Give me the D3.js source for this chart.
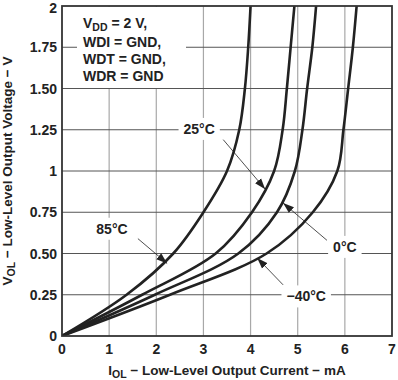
<!DOCTYPE html>
<html><head><meta charset="utf-8">
<script src="https://cdn.jsdelivr.net/npm/d3@7"></script>
<style>
body{margin:0;background:#fff;}
text{font-family:"Liberation Sans",Arial,sans-serif;font-weight:bold;fill:#222;}
</style></head>
<body><svg id="chart" width="398" height="380"></svg>
<script>
// ---- data ----
const voltageLevels = [0, 0.25, 0.5, 0.75, 1.0, 1.25, 1.5, 1.75, 2.0];
const current85  = [0, 1.37, 2.36, 3.00, 3.50, 3.76, 3.88, 3.95, 4.00];
const current25  = [0, 1.70, 3.26, 4.03, 4.50, 4.68, 4.77, 4.85, 4.93];
const current0   = [0, 1.97, 3.74, 4.56, 4.94, 5.10, 5.20, 5.31, 5.39];
const currentM40 = [0, 2.29, 4.34, 5.32, 5.84, 5.97, 6.07, 6.17, 6.25];
const seriesNames = ["85°C", "25°C", "0°C", "−40°C"];
const xTicks = [0, 1, 2, 3, 4, 5, 6, 7];
const yTicks = [0, 0.25, 0.5, 0.75, 1, 1.25, 1.5, 1.75, 2];
const yTickLabels = ["0", "0.25", "0.50", "0.75", "1", "1.25", "1.50", "1.75", "2"];
// annotation: label position and arrow (from -> tip), in data units
const annLabelX = [1.06, 2.91, 6.00, 5.18];
const annLabelY = [0.65, 1.255, 0.54, 0.24];
const annFromX  = [1.61, 3.42, 5.62, 4.69];
const annFromY  = [0.59, 1.19, 0.58, 0.31];
const annTipX   = [2.23, 4.31, 4.69, 4.14];
const annTipY   = [0.44, 0.89, 0.806, 0.473];
const conditionLines = [["V", "DD", " = 2 V,"], ["WDI = GND,"], ["WDT = GND,"], ["WDR = GND"]];

// ---- layout ----
const svg = d3.select("#chart");
const L = 62, T = 6, W = 330, H = 330;
const x = d3.scaleLinear().domain([0, 7]).range([L, L + W]);
const y = d3.scaleLinear().domain([0, 2]).range([T + H, T]);

// grid
const g = svg.append("g");
g.selectAll("line.v").data(xTicks.slice(1, -1)).enter().append("line")
  .attr("x1", d => x(d)).attr("x2", d => x(d)).attr("y1", T).attr("y2", T + H)
  .attr("stroke", "#a8a8a8").attr("stroke-width", 1.2);
g.selectAll("line.h").data(yTicks.slice(1, -1)).enter().append("line")
  .attr("x1", L).attr("x2", L + W).attr("y1", d => y(d)).attr("y2", d => y(d))
  .attr("stroke", "#555").attr("stroke-width", 1);

// condition box (white background covering grid)
svg.append("rect").attr("x", 77).attr("y", T + 1).attr("width", 109).attr("height", 81).attr("fill", "#fff");
const condBase = [28, 47, 64, 81];
conditionLines.forEach((parts, i) => {
  const t = svg.append("text").attr("x", 83).attr("y", condBase[i]).style("font-size", "14px");
  if (parts.length === 3) {
    t.append("tspan").text(parts[0]);
    t.append("tspan").attr("dy", 3).style("font-size", "10.5px").text(parts[1]);
    t.append("tspan").attr("dy", -3).text(parts[2]);
  } else {
    t.text(parts[0]);
  }
});

// annotation labels with white backgrounds
const annG = svg.append("g");
seriesNames.forEach((name, i) => {
  const cx = x(annLabelX[i]), cy = y(annLabelY[i]);
  const t = annG.append("text").attr("x", cx).attr("y", cy + 5)
    .attr("text-anchor", "middle").style("font-size", "14px").text(name);
  const bb = t.node().getBBox();
  annG.insert("rect", "text").attr("x", bb.x - 5).attr("y", bb.y - 3)
    .attr("width", bb.width + 10).attr("height", bb.height + 6).attr("fill", "#fff");
});

// curves
const allSeries = [current85, current25, current0, currentM40];
const line = d3.line().x(d => x(d[0])).y(d => y(d[1])).curve(d3.curveCatmullRom.alpha(0.5));
svg.append("defs").append("clipPath").attr("id", "clip").append("rect")
  .attr("x", L).attr("y", T).attr("width", W).attr("height", H);
svg.append("g").attr("clip-path", "url(#clip)").selectAll("path.c").data(allSeries).enter()
  .append("path").attr("d", s => line(s.map((v, k) => [v, voltageLevels[k]])))
  .attr("fill", "none").attr("stroke", "#222").attr("stroke-width", 2.6);

// arrows
const defs = svg.select("defs");
defs.append("marker").attr("id", "arr").attr("viewBox", "0 0 10 10").attr("refX", 10).attr("refY", 5)
  .attr("markerWidth", 11).attr("markerHeight", 11).attr("markerUnits", "userSpaceOnUse").attr("orient", "auto")
  .append("path").attr("d", "M0,1.5 L10,5 L0,8.5 Z").attr("fill", "#222");
seriesNames.forEach((name, i) => {
  svg.append("line").attr("x1", x(annFromX[i])).attr("y1", y(annFromY[i]))
    .attr("x2", x(annTipX[i])).attr("y2", y(annTipY[i]))
    .attr("stroke", "#222").attr("stroke-width", 0.8).attr("marker-end", "url(#arr)");
});

// frame
svg.append("rect").attr("x", L).attr("y", T).attr("width", W).attr("height", H)
  .attr("fill", "none").attr("stroke", "#333").attr("stroke-width", 1.8);

// axes tick labels
svg.selectAll("text.xt").data(xTicks).enter().append("text")
  .attr("x", d => x(d)).attr("y", 354).attr("text-anchor", "middle").style("font-size", "14px").text(d => d);
svg.selectAll("text.yt").data(yTicks).enter().append("text")
  .attr("x", 57).attr("y", d => Math.max(y(d) + 5, 13)).attr("text-anchor", "end").style("font-size", "14px")
  .text((d, i) => yTickLabels[i]);

// axis titles
const xt = svg.append("text").attr("x", x(3.5)).attr("y", 375).attr("text-anchor", "middle").style("font-size", "13.5px");
xt.append("tspan").text("I");
xt.append("tspan").attr("dy", 3).style("font-size", "10.5px").text("OL");
xt.append("tspan").attr("dy", -3).text(" − Low-Level Output Current − mA");
const yt = svg.append("text").attr("transform", `translate(12,${y(1)}) rotate(-90)`).attr("text-anchor", "middle").style("font-size", "13.5px");
yt.append("tspan").text("V");
yt.append("tspan").attr("dy", 3).style("font-size", "10.5px").text("OL");
yt.append("tspan").attr("dy", -3).text(" − Low-Level Output Voltage − V");
</script></body></html>
